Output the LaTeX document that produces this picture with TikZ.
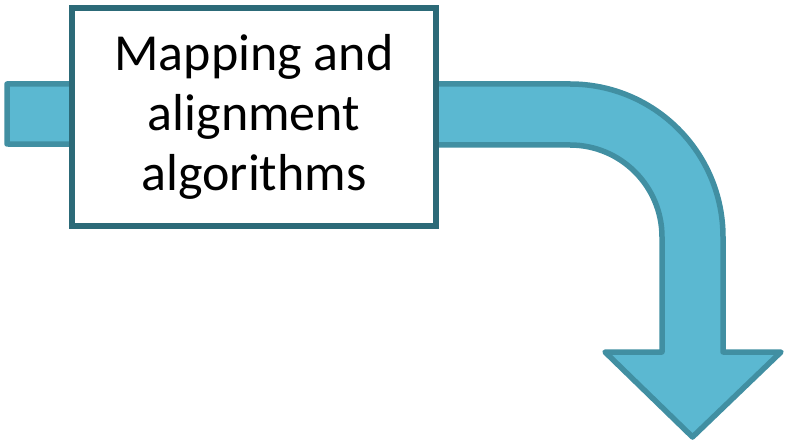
\documentclass[tikz,border=0pt]{standalone}
\usepackage{fontspec}
\setmainfont{Carlito}
\definecolor{flowfill}{HTML}{5BB8D1}
\definecolor{flowline}{HTML}{418FA2}
\definecolor{boxline}{HTML}{2C6A78}
\tikzset{
  flow/.style={fill=flowfill,draw=flowline,line width=5.5pt,line join=round},
  stage/.style={draw=boxline,fill=white,line width=6pt,align=center,
    minimum width=364pt,minimum height=218pt,inner sep=0pt,
    font=\fontsize{52}{60}\selectfont}
}

\begin{document}
\begin{tikzpicture}[x=1pt,y=1pt]
  \useasboundingbox (0,0) rectangle (787,-446);
  % bent arrow behind the box
  \draw[flow] (7,-84) -- (570,-84) arc (90:0:153) -- (723,-352) -- (781,-352)
    -- (692.5,-437) -- (605,-352) -- (662,-352) -- (662,-237) arc (0:90:92)
    -- (7,-144) -- cycle;
  \node[stage] (algbox) at (254,-117) {Mapping and\\alignment\\algorithms};
\end{tikzpicture}
\end{document}
